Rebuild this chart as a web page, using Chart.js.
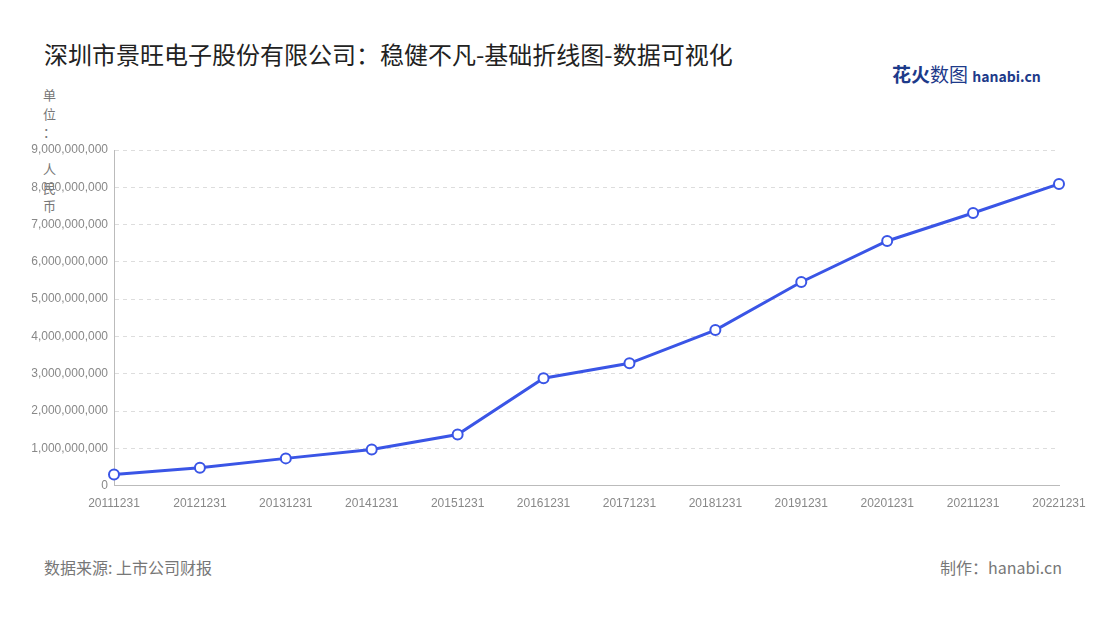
<!DOCTYPE html>
<html><head><meta charset="utf-8">
<script src="https://cdn.jsdelivr.net/npm/chart.js@4/dist/chart.umd.min.js"></script>
<style>
body{margin:0;background:#fff;font-family:"Noto Sans CJK SC","Noto Sans",sans-serif;}
#wrap{position:absolute;left:0;top:0;width:1100px;height:620px;}
.t{position:absolute;color:#333;}
</style></head><body>
<div class="t" style="left:44px;top:36px;font-size:24px;color:#222">深圳市景旺电子股份有限公司：稳健不凡-基础折线图-数据可视化</div>
<div class="t" style="left:892px;top:60px;font-size:19px;font-weight:bold;color:#1d3a8a">花火<span style="font-weight:normal">数图</span> <span style="font-size:14px">hanabi.cn</span></div>
<div class="t" style="left:43px;top:86px;width:14px;font-size:13px;line-height:18.5px;color:#777">单<br>位<br>：<br><br>人<br>民<br>币</div>
<div class="t" style="left:44px;top:555px;font-size:16px;color:#777">数据来源: 上市公司财报</div>
<div class="t" style="right:38px;top:555px;font-size:16px;color:#777">制作：hanabi.cn</div>
<div id="wrap"><canvas id="c"></canvas></div>
<script>
const years = ['20111231','20121231','20131231','20141231','20151231','20161231','20171231','20181231','20191231','20201231','20211231','20221231'];
const revenue = [0.30e9,0.48e9,0.73e9,0.97e9,1.37e9,2.88e9,3.28e9,4.17e9,5.46e9,6.56e9,7.31e9,8.09e9];

new Chart(document.getElementById('c'), {
  type: 'line',
  data: {
    labels: years,
    datasets: [{
      data: revenue,
      borderColor: '#3a55e6', borderWidth: 3,
      pointBackgroundColor: '#fff', pointBorderColor: '#3a55e6', pointBorderWidth: 2, pointRadius: 5,
      tension: 0
    }]
  },
  options: {
    responsive: true, maintainAspectRatio: false, animation: false,
    layout: { padding: { top: 150, bottom: 106, right: 41 } },
    plugins: { legend: { display: false }, tooltip: { enabled: false } },
    scales: {
      x: {
        grid: { display: false },
        border: { color: '#bbb' },
        ticks: { color: '#888', font: { size: 12 }, maxRotation: 0, autoSkip: false }
      },
      y: {
        min: 0, max: 9e9,
        afterFit: s => { s.width = 114; },
        grid: { color: '#ddd', drawTicks: false },
        border: { color: '#bbb', dash: [4, 4] },
        ticks: { stepSize: 1e9, color: '#888', font: { size: 12 }, padding: 6,
          callback: v => v.toLocaleString('en-US') }
      }
    }
  }
});
</script>
</body></html>
